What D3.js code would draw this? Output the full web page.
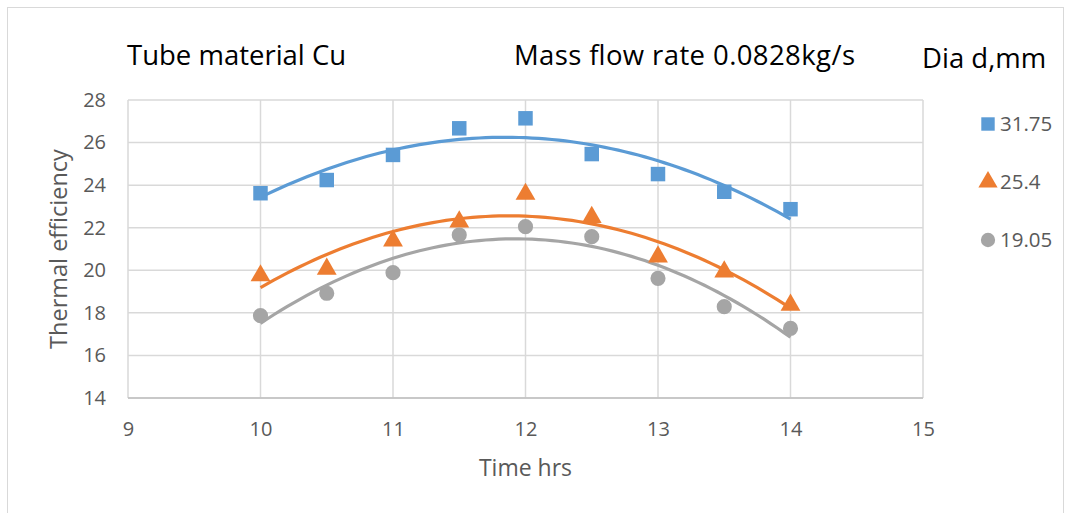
<!DOCTYPE html>
<html>
<head>
<meta charset="utf-8">
<script src="https://cdn.jsdelivr.net/npm/d3@7"></script>
<style>
body { margin: 0; background: #fff; }
text { font-family: "Open Sans", "Noto Sans", sans-serif; }
</style>
</head>
<body>
<svg id="chart" width="1071" height="513"></svg>
<script>
// data
var times = [10, 10.5, 11, 11.5, 12, 12.5, 13, 13.5, 14];
var dia3175 = [23.62, 24.24, 25.42, 26.67, 27.14, 25.46, 24.52, 23.69, 22.87];
var dia254 = [19.75, 20.06, 21.39, 22.28, 23.58, 22.49, 20.64, 19.93, 18.37];
var dia1905 = [17.87, 18.92, 19.89, 21.66, 22.05, 21.58, 19.62, 18.29, 17.27];
var seriesNames = ["31.75", "25.4", "19.05"];
var xTicks = [9, 10, 11, 12, 13, 14, 15];
var yTicks = [14, 16, 18, 20, 22, 24, 26, 28];

var colors = ["#5B9BD5", "#ED7D31", "#A5A5A5"];
var shapes = [d3.symbolSquare, d3.symbolTriangle, d3.symbolCircle];
var allSeries = [dia3175, dia254, dia1905];

var svg = d3.select("#chart");

// outer frame
svg.append("rect")
  .attr("x", 7.5).attr("y", 7.5)
  .attr("width", 1056).attr("height", 520)
  .attr("fill", "none").attr("stroke", "#D9D9D9").attr("stroke-width", 1);

var pLeft = 128, pRight = 923, pTop = 100, pBottom = 398;

var x = d3.scaleLinear().domain([9, 15]).range([pLeft, pRight]);
var y = d3.scaleLinear().domain([14, 28]).range([pBottom, pTop]);

// gridlines
var g = svg.append("g");
g.selectAll(".hgrid").data(yTicks).enter().append("line")
  .attr("x1", pLeft).attr("x2", pRight)
  .attr("y1", function(d){ return y(d); }).attr("y2", function(d){ return y(d); })
  .attr("stroke", "#D9D9D9").attr("stroke-width", 1.5);
g.selectAll(".vgrid").data(xTicks).enter().append("line")
  .attr("y1", pTop).attr("y2", pBottom)
  .attr("x1", function(d){ return x(d); }).attr("x2", function(d){ return x(d); })
  .attr("stroke", "#D9D9D9").attr("stroke-width", 1.5);

// bottom axis line
svg.append("line")
  .attr("x1", pLeft).attr("x2", pRight).attr("y1", pBottom).attr("y2", pBottom)
  .attr("stroke", "#BFBFBF").attr("stroke-width", 1.5);

// tick labels
var xAxis = d3.axisBottom(x).tickValues(xTicks).tickFormat(d3.format("d")).tickSize(0).tickPadding(24);
svg.append("g").attr("transform", "translate(0," + pBottom + ")").call(xAxis)
  .call(function(s){ s.select(".domain").remove(); })
  .selectAll("text").attr("fill", "#595959").style("font-size", "20px").style("font-family", "'Open Sans'");

var yAxis = d3.axisLeft(y).tickValues(yTicks).tickFormat(d3.format("d")).tickSize(0).tickPadding(22);
svg.append("g").attr("transform", "translate(" + pLeft + ",0)").call(yAxis)
  .call(function(s){ s.select(".domain").remove(); })
  .selectAll("text").attr("fill", "#595959").style("font-size", "20px").style("font-family", "'Open Sans'");

// axis titles
svg.append("text").text("Time hrs")
  .attr("x", x(12)).attr("y", 476).attr("text-anchor", "middle")
  .attr("fill", "#595959").style("font-size", "23px");
svg.append("text").text("Thermal efficiency")
  .attr("transform", "translate(67," + y(21) + ") rotate(-90)")
  .attr("text-anchor", "middle")
  .attr("fill", "#595959").style("font-size", "23.5px");

// header texts
svg.append("text").text("Tube material Cu")
  .attr("x", 127).attr("y", 65).attr("fill", "#000").style("font-size", "27.5px");
svg.append("text").text("Mass flow rate 0.0828kg/s")
  .attr("x", 514).attr("y", 65).attr("fill", "#000").style("font-size", "27.5px")
  .attr("textLength", 341).attr("lengthAdjust", "spacing");
svg.append("text").text("Dia d,mm")
  .attr("x", 922).attr("y", 68).attr("fill", "#000").style("font-size", "27.5px");

// least squares quadratic fit (order 2 trendline)
function polyFit(xs, ys){
  var n = xs.length, s = [0,0,0,0,0], t = [0,0,0];
  for (var i = 0; i < n; i++){
    for (var k = 0; k < 5; k++) s[k] += Math.pow(xs[i], k);
    for (var k2 = 0; k2 < 3; k2++) t[k2] += ys[i] * Math.pow(xs[i], k2);
  }
  var A = [[s[0], s[1], s[2], t[0]], [s[1], s[2], s[3], t[1]], [s[2], s[3], s[4], t[2]]];
  for (var c = 0; c < 3; c++){
    for (var r = c + 1; r < 3; r++){
      var f = A[r][c] / A[c][c];
      for (var j = c; j < 4; j++) A[r][j] -= f * A[c][j];
    }
  }
  var coef = [0,0,0];
  for (var r2 = 2; r2 >= 0; r2--){
    var sum = A[r2][3];
    for (var j2 = r2 + 1; j2 < 3; j2++) sum -= A[r2][j2] * coef[j2];
    coef[r2] = sum / A[r2][r2];
  }
  return function(v){ return coef[0] + coef[1]*v + coef[2]*v*v; };
}

var line = d3.line().x(function(d){ return x(d[0]); }).y(function(d){ return y(d[1]); });

allSeries.forEach(function(vals, i){
  var fn = polyFit(times, vals);
  var pts = d3.range(0, 81).map(function(k){ var t = 10 + k * 0.05; return [t, fn(t)]; });
  svg.append("path").datum(pts).attr("d", line)
    .attr("fill", "none").attr("stroke", colors[i]).attr("stroke-width", 3.2);
});

allSeries.forEach(function(vals, i){
  var sz = i == 0 ? 210 : (i == 1 ? 170 : 180);
  svg.append("g").selectAll("path").data(times).enter().append("path")
    .attr("d", d3.symbol().type(shapes[i]).size(sz))
    .attr("transform", function(d, k){ return "translate(" + x(d) + "," + y(vals[k]) + ")"; })
    .attr("fill", colors[i]);
});

// legend
var legY = [124, 182, 240];
seriesNames.forEach(function(name, i){
  var sz = i == 0 ? 180 : (i == 1 ? 160 : 160);
  svg.append("path")
    .attr("d", d3.symbol().type(shapes[i]).size(sz))
    .attr("transform", "translate(988," + legY[i] + ")")
    .attr("fill", colors[i]);
  svg.append("text").text(name)
    .attr("x", 1000).attr("y", legY[i] + 7)
    .attr("fill", "#595959").style("font-size", "20.5px");
});
</script>
</body>
</html>
